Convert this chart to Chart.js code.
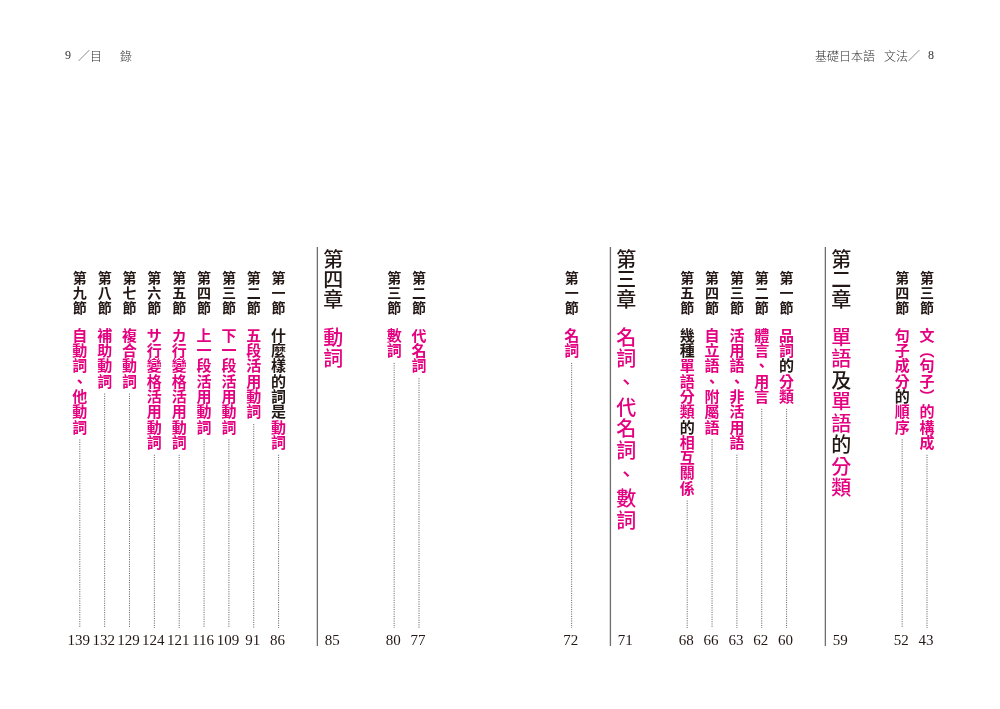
<!DOCTYPE html>
<html>
<head>
<meta charset="utf-8">
<script src="https://cdn.jsdelivr.net/npm/chart.js@4"></script>
<style>
  html, body { margin: 0; background: #fff; }
  canvas { display: block; }
</style>
</head>
<body>
<canvas id="toc" width="1000" height="709"></canvas>
<script>
// table of contents, in reading order (right to left). [..] marks black text inside a title
const entryLabels = ["第三節", "第四節", "第二章", "第一節", "第二節", "第三節", "第四節", "第五節", "第三章", "第一節",
  "第二節", "第三節", "第四章", "第一節", "第二節", "第三節", "第四節", "第五節", "第六節", "第七節", "第八節", "第九節"];
const entryTitles = ["文（句子）的構成", "句子成分[的]順序", "單語[及]單語[的]分類", "品詞[的]分類", "體言、用言",
  "活用語、非活用語", "自立語、附屬語", "[幾種]單語分類[的]相互關係", "名詞、代名詞、數詞", "名詞",
  "代名詞", "數詞", "動詞", "[什麼樣的詞是]動詞", "五段活用動詞", "下一段活用動詞", "上一段活用動詞",
  "カ行變格活用動詞", "サ行變格活用動詞", "複合動詞", "補助動詞", "自動詞、他動詞"];
const entryPages = [43, 52, 59, 60, 62, 63, 66, 68, 71, 72, 77, 80, 85, 86, 91, 109, 116, 121, 124, 129, 132, 139];
const entryBookPage = [8, 8, 8, 8, 8, 8, 8, 8, 8, 8, 9, 9, 9, 9, 9, 9, 9, 9, 9, 9, 9, 9];

const bookPages = [9, 8];
const runningHeads = ["目　錄", "基礎日本語　文法"];

const MAGENTA = "#e4007f";
const INK = "#231815";
const CJK = "'Noto Sans CJK TC', 'Noto Sans CJK JP', sans-serif";

// layout (in column slots, 1 slot = one section column)
const SLOT = 24.85;
const pageStartSlot = { 8: 927 / SLOT, 9: 419 / SLOT };
const isChapter = (i) => entryLabels[i].endsWith("章");

const slots = [];
entryLabels.forEach((lab, i) => {
  if (i === 0 || entryBookPage[i] !== entryBookPage[i - 1]) {
    slots.push(pageStartSlot[entryBookPage[i]]);
    return;
  }
  let step = 1;
  if (isChapter(i)) step = 2.45;
  else if (isChapter(i - 1)) step = 2.2;
  slots.push(slots[i - 1] - step);
});

const SEC = { labelY: 278, labelPitch: 15, titleY: 335, pitch: 15.3 };
const CHAP = { labelY: 259, labelPitch: 20, titleY: 337, pitch: 21.5, commaPitch: 27 };
const LEADER_END = 628;
const RULE_TOP = 247, RULE_BOTTOM = 646;

const vertForm = { "（": "︵", "）": "︶" };

function titleChars(title) {
  const out = [];
  let black = false;
  for (const c of title) {
    if (c === "[") { black = true; continue; }
    if (c === "]") { black = false; continue; }
    out.push({ c: vertForm[c] || c, black });
  }
  return out;
}

function titleEnd(i) {
  const chars = titleChars(entryTitles[i]);
  return SEC.titleY + (chars.length - 1) * SEC.pitch + SEC.pitch / 2;
}

const datasets = [];
entryLabels.forEach((lab, i) => {
  if (isChapter(i)) {
    const rx = slots[i] - 0.64;
    datasets.push({
      data: [{ x: rx, y: RULE_TOP }, { x: rx, y: RULE_BOTTOM }],
      showLine: true, borderColor: "#6e6e6e", borderWidth: 1.3, pointRadius: 0
    });
  } else {
    datasets.push({
      data: [{ x: slots[i], y: titleEnd(i) + 5 }, { x: slots[i], y: LEADER_END }],
      showLine: true, borderColor: "#5a5a5a", borderWidth: 1, borderDash: [1, 1.3], pointRadius: 0
    });
  }
});

function drawColumn(ctx, x, y, chars, pitch, commaPitch, font) {
  ctx.font = font;
  chars.forEach((ch, k) => {
    const isComma = ch.c === "、" && commaPitch;
    if (isComma) y += (commaPitch - pitch) / 2;
    ctx.fillStyle = ch.black ? INK : MAGENTA;
    ctx.fillText(ch.c, x, y);
    y += isComma ? commaPitch - (commaPitch - pitch) / 2 : pitch;
  });
}

const tocText = {
  id: "tocText",
  afterDatasetsDraw(chart) {
    const ctx = chart.ctx;
    const xs = chart.scales.x, ys = chart.scales.y;
    ctx.save();
    ctx.textAlign = "center";
    ctx.textBaseline = "middle";

    entryLabels.forEach((lab, i) => {
      const cx = xs.getPixelForValue(slots[i]);
      const labChars = [...lab].map(c => ({ c, black: true }));
      if (isChapter(i)) {
        drawColumn(ctx, cx, ys.getPixelForValue(CHAP.labelY), labChars, CHAP.labelPitch, 0, "500 20px " + CJK);
        drawColumn(ctx, cx, ys.getPixelForValue(CHAP.titleY), titleChars(entryTitles[i]), CHAP.pitch, CHAP.commaPitch, "500 20px " + CJK);
      } else {
        drawColumn(ctx, cx, ys.getPixelForValue(SEC.labelY), labChars, SEC.labelPitch, 0, "700 14px " + CJK);
        drawColumn(ctx, cx, ys.getPixelForValue(SEC.titleY), titleChars(entryTitles[i]), SEC.pitch, 0, "700 15px " + CJK);
      }
      ctx.fillStyle = INK;
      ctx.font = "15px 'Liberation Serif', serif";
      ctx.fillText(String(entryPages[i]), cx - 1, ys.getPixelForValue(641));
    });

    // running heads
    const hy = ys.getPixelForValue(56);
    const [leftWords, rightWords] = runningHeads.map(h => h.split("　"));
    ctx.textAlign = "left";
    ctx.fillStyle = "#333";
    ctx.font = "12px 'Liberation Serif', serif";
    ctx.fillText(String(bookPages[0]), 65, hy);
    ctx.fillText(String(bookPages[1]), 928, hy);
    ctx.font = "300 12px " + CJK;
    ctx.fillText("／" + leftWords[0], 78, hy);
    ctx.fillText(leftWords[1], 120, hy);
    ctx.fillText(rightWords[0], 815, hy);
    ctx.fillText(rightWords[1] + "／", 884, hy);
    ctx.restore();
  }
};

new Chart(document.getElementById("toc"), {
  type: "scatter",
  data: { datasets },
  options: {
    responsive: false,
    animation: false,
    events: [],
    layout: { padding: 0 },
    plugins: { legend: { display: false }, tooltip: { enabled: false } },
    scales: {
      x: { type: "linear", min: 0, max: 1000 / SLOT, display: false },
      y: { type: "linear", min: 0, max: 709, reverse: true, display: false }
    }
  },
  plugins: [tocText]
});
</script>
</body>
</html>
